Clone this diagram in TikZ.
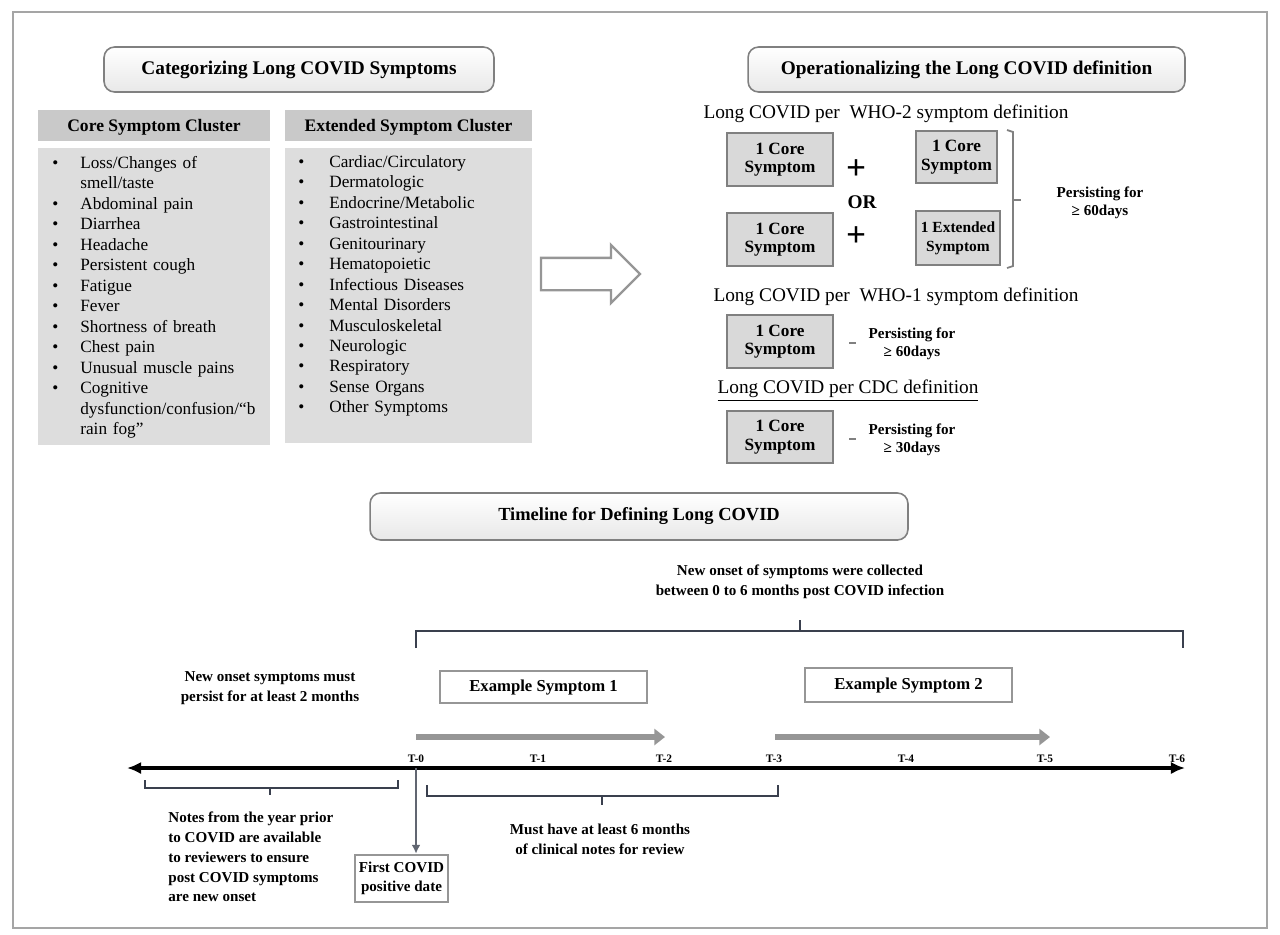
\documentclass[tikz,border=0pt]{standalone}
\usepackage{fontspec}
\setmainfont{Liberation Serif}
\usetikzlibrary{shapes.arrows,arrows.meta}

\definecolor{frameGray}{RGB}{165,165,165}
\definecolor{headGray}{RGB}{201,201,201}
\definecolor{listGray}{RGB}{221,221,221}
\definecolor{boxGray}{RGB}{217,217,217}
\definecolor{edgeGray}{RGB}{128,128,128}
\definecolor{braceInk}{RGB}{58,64,78}
\definecolor{barGray}{RGB}{150,150,150}

\tikzset{
  titlebox/.style={draw=edgeGray, rounded corners=6pt, top color=white, bottom color=gray!18,
    line width=0.9pt, font=\fontsize{11}{13}\selectfont\bfseries, inner sep=0pt},
  clusterhead/.style={fill=headGray, font=\fontsize{10}{12}\selectfont\bfseries, inner sep=0pt,
    minimum height=0.62cm, text depth=0.5pt},
  clusterbox/.style={fill=listGray, inner sep=0pt},
  itemtext/.style={font=\fontsize{9.8}{11.65}\selectfont, inner sep=0pt, align=left, anchor=north west},
  symbox/.style={draw=edgeGray, fill=boxGray, line width=1.2pt, align=center,
    font=\fontsize{9.8}{10.6}\selectfont\bfseries, inner sep=0pt},
  deftitle/.style={font=\fontsize{11}{13}\selectfont, inner sep=0pt},
  persist/.style={font=\fontsize{8.6}{10}\selectfont\bfseries, align=center, inner sep=0pt},
  note/.style={font=\fontsize{8.6}{11.3}\selectfont\bfseries, inner sep=0pt},
  samplebox/.style={draw=barGray, fill=white, line width=1.5pt, inner sep=0pt,
    font=\fontsize{9.5}{11}\selectfont\bfseries},
  tick/.style={font=\fontsize{6.5}{8}\selectfont\bfseries, inner sep=0pt},
  bracket/.style={draw=braceInk, line width=1.3pt},
  period/.style={draw=barGray, line width=3pt, -{Triangle[length=6pt,width=9pt]}},
}

\newcommand{\symitem}[1]{\noindent\hangindent=0.56cm\hangafter=1\makebox[0.56cm][l]{\textbullet}#1\par}
\newcommand{\extitem}[1]{\noindent\hangindent=0.62cm\hangafter=1\makebox[0.62cm][l]{\textbullet}#1\par}

\begin{document}
\begin{tikzpicture}[x=0.02cm, y=-0.02cm]
    % Page size and frame
    \useasboundingbox (0,0) rectangle (1280,934);
    \draw[frameGray, line width=0.8pt] (13,12) rectangle (1267,928);

    % Left panel: symptom clusters
    \node[titlebox, minimum width=7.8cm, minimum height=0.9cm] (catTitle) at (299,69.5) {Categorizing Long COVID Symptoms};
    \node[clusterhead, minimum width=4.64cm] (coreHead) at (154,125.5) {Core Symptom Cluster};
    \node[clusterhead, minimum width=4.94cm] (extHead) at (408.5,125.5) {Extended Symptom Cluster};
    \node[clusterbox, minimum width=4.64cm, minimum height=5.94cm] (coreBox) at (154,296.5) {};
    \node[clusterbox, minimum width=4.94cm, minimum height=5.9cm] (extBox) at (408.5,295.5) {};

    \node[itemtext, text width=4.2cm] (coreList) at (52,156) {%
      \symitem{Loss/Changes of\newline smell/taste}
      \symitem{Abdominal pain}
      \symitem{Diarrhea}
      \symitem{Headache}
      \symitem{Persistent cough}
      \symitem{Fatigue}
      \symitem{Fever}
      \symitem{Shortness of breath}
      \symitem{Chest pain}
      \symitem{Unusual muscle pains}
      \symitem{Cognitive\newline dysfunction/confusion/``b\newline rain fog''}};
    \node[itemtext, text width=4.4cm] (extList) at (298,155) {%
      \extitem{Cardiac/Circulatory}
      \extitem{Dermatologic}
      \extitem{Endocrine/Metabolic}
      \extitem{Gastrointestinal}
      \extitem{Genitourinary}
      \extitem{Hematopoietic}
      \extitem{Infectious Diseases}
      \extitem{Mental Disorders}
      \extitem{Musculoskeletal}
      \extitem{Neurologic}
      \extitem{Respiratory}
      \extitem{Sense Organs}
      \extitem{Other Symptoms}};

    % Hollow arrow between panels
    \node[single arrow, draw=barGray, line width=1.3pt, fill=white, inner sep=0.3cm,
      single arrow head extend=0.26cm, minimum height=1.98cm] (bigArrow) at (582.5,274) {};

    % Right panel: definitions
    \node[titlebox, minimum width=8.74cm, minimum height=0.9cm] (opTitle) at (966.5,69.5) {Operationalizing the Long COVID definition};

    % WHO-2
    \node[deftitle] (who2) at (886,114) {Long COVID per\ \ WHO-2 symptom definition};
    \node[symbox, minimum width=2.12cm, minimum height=1.06cm] (coreA) at (780,159.5) {1 Core\\Symptom};
    \node[symbox, minimum width=1.62cm, minimum height=1.04cm] (coreB) at (956.5,157) {1 Core\\Symptom};
    \node[symbox, minimum width=2.12cm, minimum height=1.06cm] (coreC) at (780,239.5) {1 Core\\Symptom};
    \node[symbox, font=\fontsize{8.8}{10.6}\selectfont\bfseries, minimum width=1.68cm, minimum height=1.08cm] (extA) at (958,238) {1 Extended\\Symptom};
    \node[font=\fontsize{20}{20}\selectfont\bfseries, inner sep=0pt] (plusA) at (856,170) {+};
    \node[font=\fontsize{20}{20}\selectfont\bfseries, inner sep=0pt] (plusB) at (856,237) {+};
    \node[font=\fontsize{11}{13}\selectfont\bfseries, inner sep=0pt] (orSign) at (862,202) {OR};
    \draw[edgeGray, line width=1pt] (1007,130) -- (1013,132) -- (1013,266) -- (1007,268);
    \draw[edgeGray, line width=1pt] (1013,200) -- (1021,200);
    \node[persist] (who2Days) at (1100,203) {Persisting for\\ ≥ 60days};

    % WHO-1
    \node[deftitle] (who1) at (896,297) {Long COVID per\ \ WHO-1 symptom definition};
    \node[symbox, minimum width=2.12cm, minimum height=1.06cm] (coreD) at (780,341.5) {1 Core\\Symptom};
    \draw[edgeGray, line width=1pt] (849,343) -- (856,343);
    \node[persist] (who1Days) at (912,344) {Persisting for\\ ≥ 60days};

    % CDC
    \node[deftitle] (cdc) at (848,391) {\underline{Long COVID per CDC definition}};
    \node[symbox, minimum width=2.12cm, minimum height=1.04cm] (coreE) at (780,437) {1 Core\\Symptom};
    \draw[edgeGray, line width=1pt] (849,439) -- (856,439);
    \node[persist] (cdcDays) at (912,440) {Persisting for\\ ≥ 30days};

    % Timeline
    \node[titlebox, font=\fontsize{10.5}{12}\selectfont\bfseries, minimum width=10.76cm, minimum height=0.94cm] (timeTitle) at (639,516.5) {Timeline for Defining Long COVID};
    \node[note, align=center] (collected) at (800,582) {New onset of symptoms were collected\\between 0 to 6 months post COVID infection};

    % top bracket over the 6 months
    \coordinate (topL) at (416,648);
    \coordinate (topR) at (1183,648);
    \coordinate (topMid) at (800,631);
    \draw[bracket] (topL) |- (topMid) -| (topR);
    \draw[bracket] (topMid) -- ++(0,-11);

    \node[note, align=center] (persistNote) at (270,688) {New onset symptoms must\\persist for at least 2 months};
    \node[samplebox, minimum width=4.14cm, minimum height=0.64cm] (sample1) at (543.5,687) {Example Symptom 1};
    \node[samplebox, minimum width=4.14cm, minimum height=0.68cm] (sample2) at (908.5,685) {Example Symptom 2};

    % two month periods
    \coordinate (p1s) at (416,737);
    \coordinate (p1e) at (665,737);
    \coordinate (p2s) at (775,737);
    \coordinate (p2e) at (1050,737);
    \draw[period] (p1s) -- (p1e);
    \draw[period] (p2s) -- (p2e);

    % axis with month marks
    \coordinate (axL) at (127,768);
    \coordinate (axR) at (1185,768);
    \coordinate (ax0) at (416,768);
    \draw[line width=1.8pt, {Latex[length=8pt,width=7pt]}-{Latex[length=8pt,width=7pt]}] (axL) -- (axR);
    \foreach \xpos/\lab in {416/0, 538/1, 664/2, 774/3, 906/4, 1045/5, 1177/6}
      \node[tick] (t\lab) at (\xpos,759) {T-\lab};

    % year before COVID
    \coordinate (yrL) at (145,780);
    \coordinate (yrR) at (398,780);
    \coordinate (yrMid) at (270,788);
    \draw[bracket] (yrL) |- (yrMid) -| (yrR);
    \draw[bracket] (yrMid) -- ++(0,7);
    \node[note, align=left, anchor=west] (yearNote) at (168,857) {Notes from the year prior\\to COVID are available\\to reviewers to ensure\\post COVID symptoms\\are new onset};

    % first positive test
    \node[samplebox, font=\fontsize{8.6}{10.5}\selectfont\bfseries, align=center, minimum width=1.86cm, minimum height=0.94cm] (firstPos) at (401.5,878.5) {First COVID\\positive date};
    \draw[braceInk!80, line width=1.6pt, -{Latex[length=5pt,width=5pt]}] (ax0) -- (firstPos.north -| ax0);

    % six months of notes
    \coordinate (smL) at (427,785);
    \coordinate (smR) at (778,785);
    \coordinate (smMid) at (602,796);
    \draw[bracket] (smL) |- (smMid) -| (smR);
    \draw[bracket] (smMid) -- ++(0,9);
    \node[note, align=center] (sixNote) at (600,839) {Must have at least 6 months\\of clinical notes for review};
\end{tikzpicture}
\end{document}
